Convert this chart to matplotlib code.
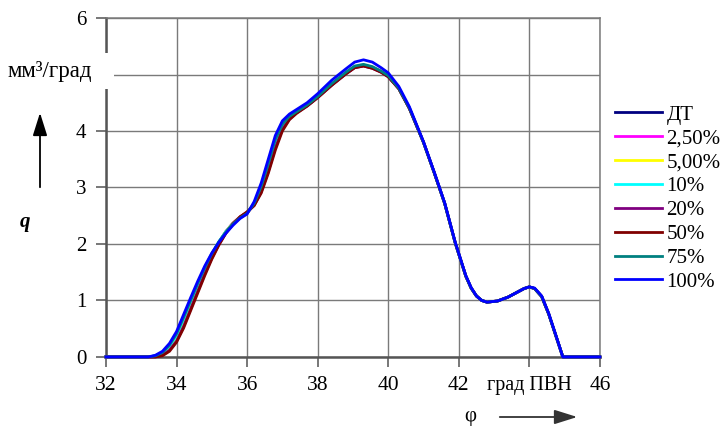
import matplotlib
matplotlib.use("Agg")
import matplotlib.pyplot as plt
from matplotlib.patches import Rectangle, FancyArrowPatch

plt.rcParams['font.family'] = ['Liberation Serif', 'DejaVu Serif']

# crank angle, deg (shared grid for all series)
phi = [32.0, 33.2, 33.4, 33.6, 33.8, 34.0, 34.2, 34.4, 34.6, 34.8,
       35.0, 35.2, 35.4, 35.6, 35.8, 36.0, 36.2, 36.4, 36.6, 36.8,
       37.0, 37.2, 37.4, 37.7, 38.0, 38.4, 38.8, 39.05, 39.3, 39.55,
       39.8, 40.0, 40.3, 40.6, 41.0, 41.3, 41.6, 41.9, 42.2, 42.35,
       42.5, 42.65, 42.8, 43.1, 43.4, 43.7, 43.85, 44.0, 44.15, 44.35,
       44.55, 44.75, 44.95, 46.0]

q_dt = [0, 0, 0.01, 0.06, 0.17, 0.36, 0.64, 0.95, 1.26, 1.55,
        1.81, 2.03, 2.22, 2.37, 2.47, 2.55, 2.71, 2.99, 3.38, 3.80,
        4.09, 4.24, 4.33, 4.45, 4.60, 4.82, 5.02, 5.13, 5.16, 5.12,
        5.05, 4.97, 4.75, 4.40, 3.80, 3.27, 2.72, 2.02, 1.43, 1.22,
        1.08, 1.00, 0.97, 0.99, 1.06, 1.16, 1.21, 1.24, 1.21, 1.07,
        0.76, 0.38, 0.0, 0.0]
q_2_5 = [0, 0, 0.01, 0.05, 0.16, 0.34, 0.62, 0.93, 1.24, 1.54,
         1.80, 2.03, 2.22, 2.37, 2.48, 2.55, 2.70, 2.97, 3.36, 3.78,
         4.08, 4.24, 4.33, 4.45, 4.60, 4.82, 5.02, 5.13, 5.16, 5.12,
         5.05, 4.97, 4.75, 4.40, 3.80, 3.27, 2.72, 2.02, 1.43, 1.22,
         1.08, 1.00, 0.97, 0.99, 1.06, 1.16, 1.21, 1.24, 1.21, 1.07,
         0.76, 0.38, 0.0, 0.0]
q_5 = [0, 0, 0.01, 0.05, 0.15, 0.33, 0.60, 0.91, 1.22, 1.52,
       1.79, 2.02, 2.22, 2.37, 2.48, 2.55, 2.70, 2.96, 3.34, 3.76,
       4.07, 4.23, 4.33, 4.45, 4.60, 4.82, 5.02, 5.13, 5.16, 5.12,
       5.05, 4.97, 4.75, 4.40, 3.80, 3.27, 2.72, 2.02, 1.43, 1.22,
       1.08, 1.00, 0.97, 0.99, 1.06, 1.16, 1.21, 1.24, 1.21, 1.07,
       0.76, 0.38, 0.0, 0.0]
q_10 = [0, 0, 0.02, 0.07, 0.19, 0.38, 0.67, 0.98, 1.28, 1.57,
        1.82, 2.04, 2.22, 2.36, 2.47, 2.55, 2.72, 3.00, 3.40, 3.82,
        4.10, 4.25, 4.33, 4.45, 4.60, 4.83, 5.03, 5.14, 5.17, 5.13,
        5.05, 4.97, 4.75, 4.40, 3.80, 3.27, 2.72, 2.02, 1.43, 1.22,
        1.08, 1.00, 0.97, 0.99, 1.06, 1.16, 1.21, 1.24, 1.21, 1.07,
        0.76, 0.38, 0.0, 0.0]
q_20 = [0, 0, 0.0, 0.03, 0.12, 0.28, 0.54, 0.85, 1.16, 1.47,
        1.75, 1.99, 2.20, 2.36, 2.48, 2.56, 2.68, 2.92, 3.28, 3.70,
        4.03, 4.21, 4.32, 4.44, 4.59, 4.81, 5.01, 5.12, 5.15, 5.11,
        5.04, 4.96, 4.75, 4.40, 3.80, 3.27, 2.72, 2.02, 1.43, 1.22,
        1.08, 1.00, 0.97, 0.99, 1.06, 1.16, 1.21, 1.24, 1.21, 1.07,
        0.76, 0.38, 0.0, 0.0]
q_50 = [0, 0, 0.0, 0.02, 0.10, 0.26, 0.51, 0.82, 1.13, 1.44,
        1.73, 1.98, 2.19, 2.35, 2.48, 2.57, 2.68, 2.90, 3.25, 3.66,
        4.00, 4.20, 4.31, 4.44, 4.59, 4.81, 5.01, 5.12, 5.15, 5.11,
        5.04, 4.96, 4.75, 4.40, 3.80, 3.27, 2.72, 2.02, 1.43, 1.22,
        1.08, 1.00, 0.97, 0.99, 1.06, 1.16, 1.21, 1.24, 1.21, 1.07,
        0.76, 0.38, 0.0, 0.0]
q_75 = [0, 0, 0.02, 0.08, 0.21, 0.41, 0.70, 1.00, 1.30, 1.58,
        1.83, 2.04, 2.21, 2.35, 2.46, 2.54, 2.72, 3.02, 3.42, 3.85,
        4.12, 4.26, 4.34, 4.46, 4.61, 4.84, 5.04, 5.15, 5.18, 5.14,
        5.06, 4.98, 4.76, 4.41, 3.80, 3.27, 2.72, 2.02, 1.43, 1.22,
        1.08, 1.00, 0.97, 0.99, 1.06, 1.16, 1.21, 1.24, 1.21, 1.07,
        0.76, 0.38, 0.0, 0.0]
q_100 = [0, 0, 0.03, 0.10, 0.24, 0.45, 0.75, 1.05, 1.34, 1.61,
         1.84, 2.03, 2.19, 2.33, 2.45, 2.53, 2.75, 3.08, 3.50, 3.92,
         4.18, 4.30, 4.38, 4.50, 4.66, 4.90, 5.10, 5.22, 5.26, 5.22,
         5.12, 5.03, 4.79, 4.43, 3.81, 3.28, 2.73, 2.03, 1.44, 1.23,
         1.08, 1.00, 0.97, 0.99, 1.06, 1.16, 1.21, 1.24, 1.22, 1.08,
         0.77, 0.39, 0.0, 0.0]

labels = ['ДТ', '2,50%', '5,00%', '10%', '20%', '50%', '75%', '100%']
colors = ['#000080', '#ff00ff', '#ffff00', '#00ffff', '#800080', '#800000', '#008080', '#0000ff']
series = [q_dt, q_2_5, q_5, q_10, q_20, q_50, q_75, q_100]

xticks = [32, 34, 36, 38, 40, 42, 44, 46]
xlabels = ['32', '34', '36', '38', '40', '42', 'град ПВН', '46']
yticks = [0, 1, 2, 3, 4, 5, 6]
ylabels = ['0', '1', '2', '3', '4', '', '6']

fig = plt.figure(figsize=(7.21, 4.29), dpi=100)
ax = fig.add_axes([0.147, 0.168, 0.685, 0.790])

for q, c, lab in zip(series, colors, labels):
    ax.plot(phi, q, color=c, lw=2.0, label=lab, clip_on=False, zorder=3,
            solid_joinstyle='round')

ax.set_xlim(32, 46)
ax.set_ylim(0, 6)
ax.set_xticks(xticks)
ax.set_xticklabels(xlabels)
ax.set_yticks(yticks)
ax.set_yticklabels(ylabels)
ax.grid(True, color='#7a7a7a', lw=1.0)
ax.tick_params(direction='out', length=7, width=1.2, color='#606060', pad=7)
ax.tick_params(axis='x', labelsize=15.5)
ax.tick_params(axis='y', labelsize=15)
ax.get_xticklabels()[6].set_fontsize(14.5)

for side in ['left', 'bottom']:
    ax.spines[side].set_color('#555555')
    ax.spines[side].set_linewidth(1.8)
for side in ['top', 'right']:
    ax.spines[side].set_color('#7a7a7a')
    ax.spines[side].set_linewidth(1.1)

# white gap in the left spine for the unit label
ax.add_patch(Rectangle((-0.02, 0.79), 0.036, 0.107, transform=ax.transAxes,
                       facecolor='white', edgecolor='none', clip_on=False, zorder=10))
fig.text(50 / 721, 1 - 72 / 429, 'мм³/град', fontsize=16.5, ha='center', va='center', zorder=11)

fig.text(25 / 721, 1 - 222 / 429, 'q', fontsize=15, fontweight='bold', style='italic',
         ha='center', va='center')
fig.add_artist(FancyArrowPatch((40 / 721, 1 - 190 / 429), (40 / 721, 1 - 110 / 429),
                               transform=fig.transFigure, arrowstyle='-|>,head_length=0.7,head_width=0.22',
                               mutation_scale=20, color='black', lw=1.3))

fig.text(470 / 721, 1 - 417 / 429, 'φ', fontsize=15, ha='center', va='center')
fig.add_artist(FancyArrowPatch((497 / 721, 1 - 417 / 429), (580 / 721, 1 - 417 / 429),
                               transform=fig.transFigure, arrowstyle='-|>,head_length=0.7,head_width=0.22',
                               mutation_scale=20, color='#333333', lw=1.3))

fig.legend(loc='upper left', bbox_to_anchor=(0.853, 0.755), frameon=False,
           fontsize=15, handlelength=2.26, handletextpad=0.2, labelspacing=0.205,
           borderpad=0, borderaxespad=0)

fig.savefig('out.png', dpi=100)
plt.close(fig)
